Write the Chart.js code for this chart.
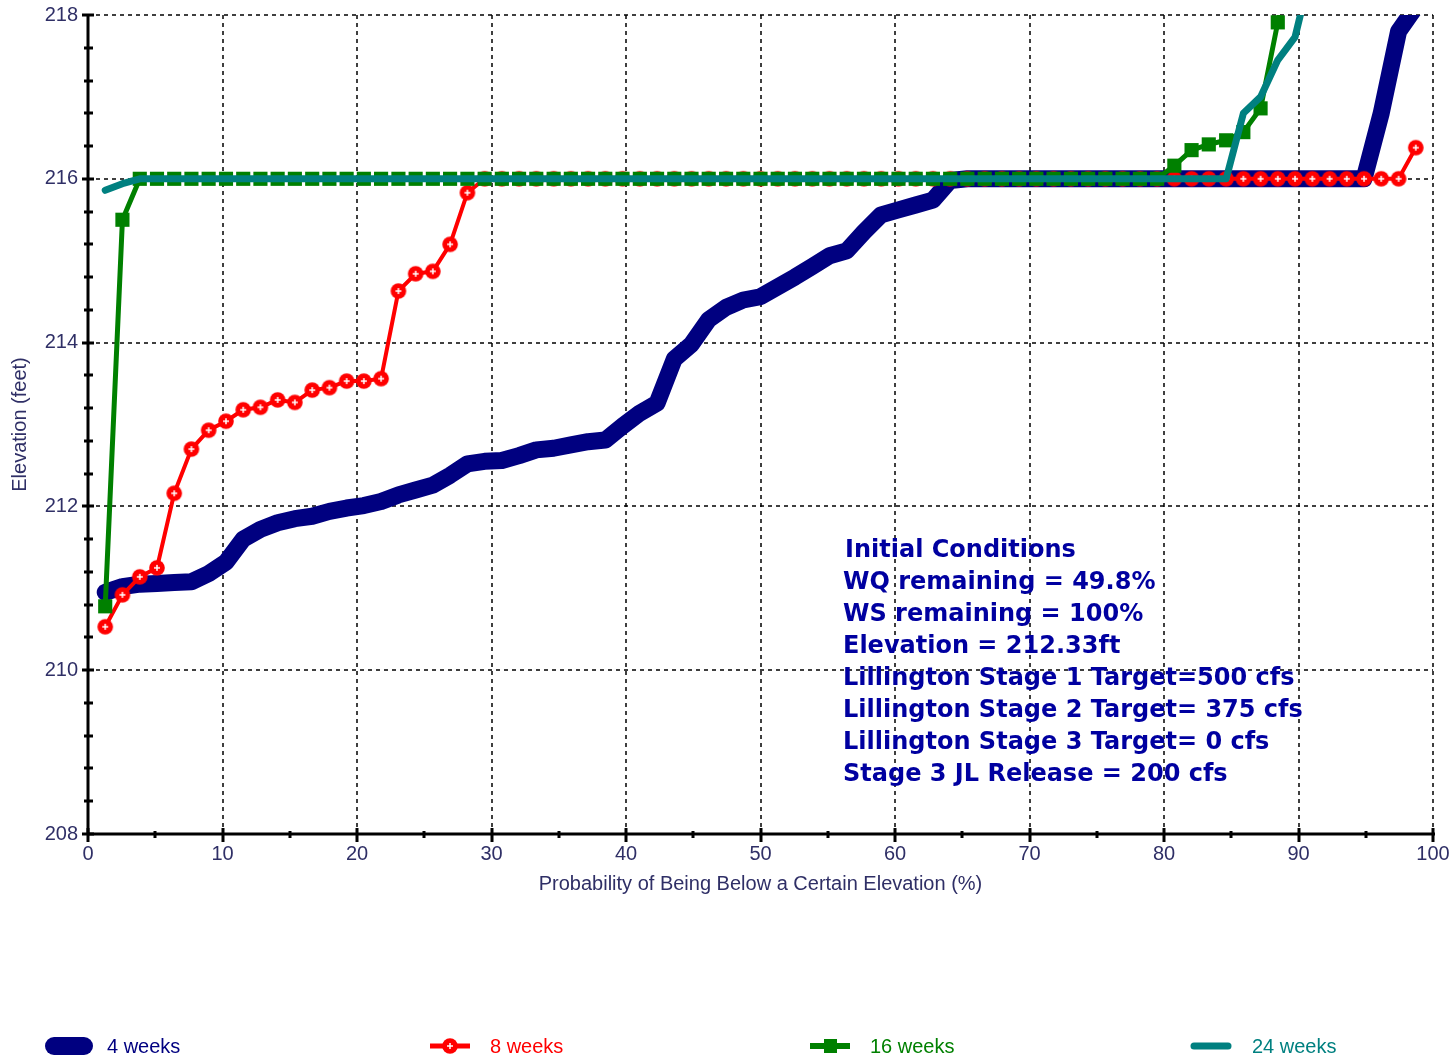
<!DOCTYPE html>
<html>
<head>
<meta charset="utf-8">
<title>Elevation probability</title>
<script src="https://cdn.jsdelivr.net/npm/chart.js@4"></script>
<style>
  html, body { margin: 0; padding: 0; background: #fff; }
  #wrap { position: relative; width: 1453px; height: 1058px; overflow: hidden; }
  #myChart1 { position: absolute; left: 0; top: 0; }
  #notes {
    position: absolute; left: 843px; top: 533px;
    font: bold 24px "DejaVu Sans", Verdana, sans-serif;
    color: #0000a0; line-height: 32px; white-space: pre;
  }
  #notes div:first-child { padding-left: 2px; }
  .key {
    position: absolute; top: 1034px; height: 24px;
    display: flex; align-items: center;
    font: 20px "Liberation Sans", Arial, sans-serif;
  }
  .key canvas { margin-right: 2px; }
</style>
</head>
<body>
<div id="wrap">
  <canvas id="myChart1" width="1453" height="1058"></canvas>
  <div id="notes"></div>
</div>
<script>
// plotting positions (%), one per ranked trace
const probability = [
  1.28, 2.56, 3.85, 5.13, 6.41, 7.69, 8.97, 10.26, 11.54, 12.82,
  14.10, 15.38, 16.67, 17.95, 19.23, 20.51, 21.79, 23.08, 24.36, 25.64,
  26.92, 28.21, 29.49, 30.77, 32.05, 33.33, 34.62, 35.90, 37.18, 38.46,
  39.74, 41.03, 42.31, 43.59, 44.87, 46.15, 47.44, 48.72, 50.00, 51.28,
  52.56, 53.85, 55.13, 56.41, 57.69, 58.97, 60.26, 61.54, 62.82, 64.10,
  65.38, 66.67, 67.95, 69.23, 70.51, 71.79, 73.08, 74.36, 75.64, 76.92,
  78.21, 79.49, 80.77, 82.05, 83.33, 84.62, 85.90, 87.18, 88.46, 89.74,
  91.03, 92.31, 93.59, 94.87, 96.15, 97.44, 98.72
];

// elevations (ft)
const weeks4 = [
  210.95, 211.02, 211.05, 211.06, 211.07, 211.08, 211.18, 211.32, 211.60, 211.72,
  211.80, 211.85, 211.88, 211.94, 211.98, 212.01, 212.06, 212.14, 212.20, 212.26,
  212.38, 212.52, 212.55, 212.56, 212.62, 212.69, 212.71, 212.75, 212.79, 212.81,
  212.98, 213.14, 213.26, 213.80, 213.98, 214.28, 214.43, 214.52, 214.56, 214.68,
  214.80, 214.93, 215.06, 215.12, 215.35, 215.56, 215.62, 215.68, 215.74, 215.98,
  216, 216, 216, 216, 216, 216, 216, 216, 216, 216,
  216, 216, 216, 216, 216, 216, 216, 216, 216, 216,
  216, 216, 216, 216, 216.80, 217.80, 218.10
];
const weeks8 = [
  210.53, 210.92, 211.14, 211.25, 212.16, 212.70, 212.93, 213.04, 213.18, 213.21,
  213.30, 213.27, 213.42, 213.45, 213.53, 213.53, 213.56, 214.63, 214.84, 214.87,
  215.20, 215.83, 216, 216, 216, 216, 216, 216, 216, 216,
  216, 216, 216, 216, 216, 216, 216, 216, 216, 216,
  216, 216, 216, 216, 216, 216, 216, 216, 216, 216,
  216, 216, 216, 216, 216, 216, 216, 216, 216, 216,
  216, 216, 216, 216, 216, 216, 216, 216, 216, 216,
  216, 216, 216, 216, 216, 216, 216.38
];
const weeks16 = [
  210.78, 215.50, 216, 216, 216, 216, 216, 216, 216, 216,
  216, 216, 216, 216, 216, 216, 216, 216, 216, 216,
  216, 216, 216, 216, 216, 216, 216, 216, 216, 216,
  216, 216, 216, 216, 216, 216, 216, 216, 216, 216,
  216, 216, 216, 216, 216, 216, 216, 216, 216, 216,
  216, 216, 216, 216, 216, 216, 216, 216, 216, 216,
  216, 216, 216.16, 216.35, 216.42, 216.47, 216.57, 216.86, 217.91, 219.00
];
const weeks24 = [
  215.86, 215.94, 216, 216, 216, 216, 216, 216, 216, 216,
  216, 216, 216, 216, 216, 216, 216, 216, 216, 216,
  216, 216, 216, 216, 216, 216, 216, 216, 216, 216,
  216, 216, 216, 216, 216, 216, 216, 216, 216, 216,
  216, 216, 216, 216, 216, 216, 216, 216, 216, 216,
  216, 216, 216, 216, 216, 216, 216, 216, 216, 216,
  216, 216, 216, 216, 216, 216, 216.80, 217.00, 217.45, 217.73,
  218.60
];

const seriesNames = ['4 weeks', '8 weeks', '16 weeks', '24 weeks'];
const seriesColors = ['#000080', '#ff0000', '#008000', '#008080'];

const noteLines = [
  'Initial Conditions',
  'WQ remaining = 49.8%',
  'WS remaining = 100%',
  'Elevation = 212.33ft',
  'Lillington Stage 1 Target=500 cfs',
  'Lillington Stage 2 Target= 375 cfs',
  'Lillington Stage 3 Target= 0 cfs',
  'Stage 3 JL Release = 200 cfs'
];

const toPoints = vals => vals.map((v, k) => ({ x: probability[k], y: v }));

// red circle with a white plus, like the original marker
function makeRedDot() {
  const c = document.createElement('canvas');
  c.width = 18; c.height = 18;
  const g = c.getContext('2d');
  g.fillStyle = '#ff0000';
  g.beginPath(); g.arc(9, 9, 7.8, 0, Math.PI * 2); g.fill();
  g.strokeStyle = '#ffffff'; g.lineWidth = 1.5;
  g.beginPath(); g.moveTo(9, 6); g.lineTo(9, 12); g.moveTo(6, 9); g.lineTo(12, 9); g.stroke();
  return c;
}
const redDot = makeRedDot();

// dashed grid, thick axes and tick marks
const axisDecor = {
  id: 'axisDecor',
  beforeDatasetsDraw(chart) {
    const { ctx, chartArea: a, scales: { x, y } } = chart;
    ctx.save();
    ctx.strokeStyle = '#000';
    ctx.lineWidth = 1.5;
    ctx.setLineDash([4, 4]);
    ctx.beginPath();
    x.ticks.forEach(t => {
      if (t.value === x.min) return;
      const px = Math.round(x.getPixelForValue(t.value));
      ctx.moveTo(px, a.top); ctx.lineTo(px, a.bottom);
    });
    y.ticks.forEach(t => {
      if (t.value === y.min) return;
      const py = Math.round(y.getPixelForValue(t.value));
      ctx.moveTo(a.left, py); ctx.lineTo(a.right, py);
    });
    ctx.stroke();
    ctx.restore();
  },
  afterDatasetsDraw(chart) {
    const { ctx, chartArea: a, scales: { x, y } } = chart;
    ctx.save();
    ctx.strokeStyle = '#000';
    ctx.setLineDash([]);
    ctx.lineWidth = 3;
    ctx.beginPath();
    ctx.moveTo(a.left, a.top); ctx.lineTo(a.left, a.bottom);
    ctx.moveTo(a.left, a.bottom); ctx.lineTo(a.right + 2, a.bottom);
    ctx.stroke();
    // y ticks: major on labels, minor every 0.4 ft
    ctx.beginPath();
    for (let v = y.min; v <= y.max + 0.01; v += 0.4) {
      const py = Math.round(y.getPixelForValue(v));
      const major = Math.abs(v / 2 - Math.round(v / 2)) < 0.01;
      ctx.moveTo(a.left - (major ? 6 : 4), py);
      ctx.lineTo(a.left + (major ? 6 : 5), py);
    }
    ctx.stroke();
    // x ticks: major every 10, minor every 5
    ctx.beginPath();
    for (let v = x.min; v <= x.max + 0.01; v += 5) {
      const px = Math.round(x.getPixelForValue(v));
      const major = v % 10 === 0;
      ctx.moveTo(px, a.bottom - (major ? 6 : 3));
      ctx.lineTo(px, a.bottom + (major ? 8 : 4));
    }
    ctx.stroke();
    ctx.restore();
  }
};

const tickFont = { family: '"Liberation Sans", Arial, sans-serif', size: 20 };
const inkColor = '#2f2f66';

const data = {
  datasets: [
    {
      label: seriesNames[0], data: toPoints(weeks4),
      borderColor: seriesColors[0], backgroundColor: seriesColors[0],
      borderWidth: 17, pointRadius: 0, borderCapStyle: 'round', borderJoinStyle: 'round',
      order: 4, clip: 0
    },
    {
      label: seriesNames[1], data: toPoints(weeks8),
      borderColor: seriesColors[1], backgroundColor: seriesColors[1],
      borderWidth: 4, pointStyle: redDot, pointRadius: 8,
      order: 3, clip: 0
    },
    {
      label: seriesNames[2], data: toPoints(weeks16),
      borderColor: seriesColors[2], backgroundColor: seriesColors[2],
      borderWidth: 5, pointStyle: 'rect', pointRadius: 10,
      pointBackgroundColor: seriesColors[2], pointBorderColor: seriesColors[2], pointBorderWidth: 0,
      order: 2, clip: 0
    },
    {
      label: seriesNames[3], data: toPoints(weeks24),
      borderColor: seriesColors[3], backgroundColor: seriesColors[3],
      borderWidth: 7, pointRadius: 0, borderCapStyle: 'round', borderJoinStyle: 'round',
      order: 1, clip: 0
    }
  ]
};

const config = {
  type: 'line',
  data: data,
  options: {
    responsive: false,
    animation: false,
    devicePixelRatio: 1,
    layout: { padding: { left: 0, top: 15, right: 20, bottom: 162 } },
    plugins: { legend: { display: false }, tooltip: { enabled: false } },
    scales: {
      x: {
        type: 'linear', min: 0, max: 100,
        grid: { display: false, drawTicks: false },
        border: { display: false },
        ticks: { stepSize: 10, padding: 8, color: inkColor, font: tickFont, maxRotation: 0 },
        title: {
          display: true, text: 'Probability of Being Below a Certain Elevation (%)',
          color: inkColor, font: tickFont, padding: { top: 0, bottom: 0 }
        },
        afterFit: scale => {
          scale.height = 62;
          scale.paddingLeft = 0;
          scale.paddingRight = 0;
        }
      },
      y: {
        type: 'linear', min: 208, max: 218,
        grid: { display: false, drawTicks: false },
        border: { display: false },
        ticks: { stepSize: 2, padding: 10, color: inkColor, font: tickFont },
        title: {
          display: true, text: 'Elevation (feet)',
          color: inkColor, font: tickFont, padding: { top: 8, bottom: 0 }
        },
        afterFit: scale => {
          scale.width = 88;
          scale.paddingTop = 0;
          scale.paddingBottom = 0;
        }
      }
    }
  },
  plugins: [axisDecor]
};

const myChart1 = new Chart(document.getElementById('myChart1'), config);

// annotation block
const notes = document.getElementById('notes');
noteLines.forEach(line => {
  const row = document.createElement('div');
  row.textContent = line;
  notes.appendChild(row);
});

// legend along the bottom
const keyLefts = [45, 428, 808, 1190];
const wrap = document.getElementById('wrap');
seriesNames.forEach((name, k) => {
  const item = document.createElement('div');
  item.className = 'key';
  item.style.left = keyLefts[k] + 'px';
  item.style.color = seriesColors[k];
  const sw = document.createElement('canvas');
  sw.width = 60; sw.height = 24;
  const g = sw.getContext('2d');
  g.strokeStyle = seriesColors[k];
  g.lineCap = 'round';
  if (k === 0) {
    g.lineWidth = 18;
    g.beginPath(); g.moveTo(9, 12); g.lineTo(39, 12); g.stroke();
  } else if (k === 1) {
    g.lineWidth = 5; g.lineCap = 'butt';
    g.beginPath(); g.moveTo(2, 12); g.lineTo(42, 12); g.stroke();
    g.drawImage(redDot, 22 - 9, 12 - 9);
  } else if (k === 2) {
    g.lineWidth = 6; g.lineCap = 'butt';
    g.beginPath(); g.moveTo(2, 12); g.lineTo(42, 12); g.stroke();
    g.fillStyle = seriesColors[2];
    g.fillRect(16, 5, 13, 14);
  } else {
    g.lineWidth = 7;
    g.beginPath(); g.moveTo(4, 12); g.lineTo(38, 12); g.stroke();
  }
  const label = document.createElement('span');
  label.textContent = name;
  item.appendChild(sw);
  item.appendChild(label);
  wrap.appendChild(item);
});
</script>
</body>
</html>
